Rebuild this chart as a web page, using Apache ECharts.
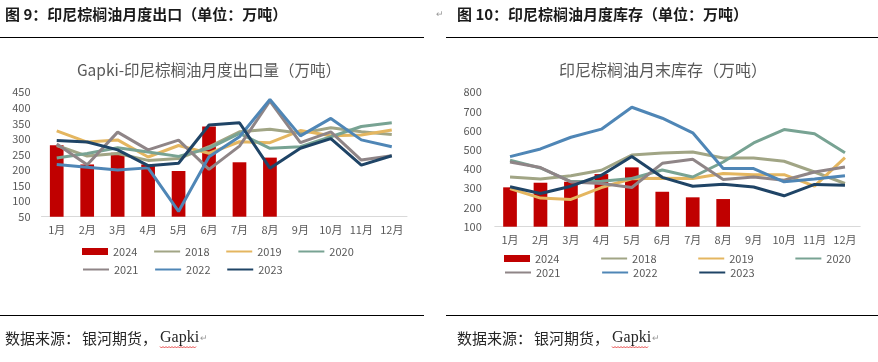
<!DOCTYPE html>
<html>
<head>
<meta charset="utf-8">
<script src="https://cdn.jsdelivr.net/npm/echarts@6/dist/echarts.min.js"></script>
<style>
html,body{margin:0;padding:0;background:#fff;}
#c{width:878px;height:362px;}
</style>
</head>
<body>
<div id="c"></div>
<script>
// ---- data ----
var months = ['1月','2月','3月','4月','5月','6月','7月','8月','9月','10月','11月','12月'];
var years = ['2024','2018','2019','2020','2021','2022','2023'];

// Left: Gapki monthly exports (10k t)
var exp2024 = [280, 218, 256, 218, 197, 340, 225, 240];
var exp2018 = [279, 245, 253, 231, 237, 275, 323, 331, 318, 336, 323, 314];
var exp2019 = [326, 290, 297, 242, 279, 254, 291, 288, 327, 310, 313, 329];
var exp2020 = [239, 253, 272, 258, 244, 270, 318, 270, 275, 307, 340, 352];
var exp2021 = [284, 217, 322, 265, 296, 202, 277, 422, 288, 323, 232, 246];
var exp2022 = [218, 209, 200, 207, 67, 243, 307, 427, 310, 366, 297, 275];
var exp2023 = [295, 290, 265, 214, 222, 345, 352, 206, 270, 301, 216, 246];

// Right: month-end stocks (10k t)
var inv2024 = [305, 329, 334, 374, 409, 282, 253, 244];
var inv2018 = [359, 349, 365, 394, 473, 484, 489, 458, 458, 441, 385, 325];
var inv2019 = [299, 249, 242, 304, 350, 352, 351, 377, 371, 371, 311, 460];
var inv2020 = [446, 406, 335, 337, 351, 395, 359, 437, 536, 606, 584, 485];
var inv2021 = [437, 408, 333, 325, 304, 430, 451, 346, 359, 342, 385, 411];
var inv2022 = [465, 505, 566, 608, 722, 665, 589, 403, 403, 334, 349, 365];
var inv2023 = [308, 273, 311, 368, 466, 357, 311, 321, 307, 261, 320, 316];

var leftTicks = [50, 450, 50];   // min, max, interval
var rightTicks = [100, 800, 100];

// ---- styles ----
var colors = {
  '2024': '#C00000',
  '2018': '#A1A585',
  '2019': '#E4B660',
  '2020': '#78A393',
  '2021': '#8F8587',
  '2022': '#4F86B6',
  '2023': '#1F4466'
};
var FONT = "'Noto Sans CJK SC', 'Noto Sans', sans-serif";
var labelColor = '#595959';

var chart = echarts.init(document.getElementById('c'), null, {renderer: 'canvas'});

function mkSeries(axisIdx, bars, lines) {
  var out = [];
  out.push({
    name: '2024', type: 'bar', xAxisIndex: axisIdx, yAxisIndex: axisIdx,
    data: bars, barWidth: '45%', itemStyle: {color: colors['2024']}, z: 1
  });
  var names = ['2018','2019','2020','2021','2022','2023'];
  names.forEach(function (n, i) {
    out.push({
      name: n, type: 'line', xAxisIndex: axisIdx, yAxisIndex: axisIdx,
      data: lines[i], symbol: 'none', smooth: false,
      lineStyle: {width: 3, color: colors[n]}, itemStyle: {color: colors[n]},
      z: 2 + i
    });
  });
  return out;
}

var series = mkSeries(0, exp2024, [exp2018, exp2019, exp2020, exp2021, exp2022, exp2023])
  .concat(mkSeries(1, inv2024, [inv2018, inv2019, inv2020, inv2021, inv2022, inv2023]));

function xAx(gi) {
  return {
    type: 'category', gridIndex: gi, data: months, boundaryGap: true,
    axisLine: {show: true, lineStyle: {color: '#D9D9D9', width: 1}},
    axisTick: {show: false},
    axisLabel: {color: labelColor, fontSize: 11, fontFamily: FONT, margin: 8, interval: 0}
  };
}
function yAx(gi, t, margin) {
  return {
    type: 'value', gridIndex: gi, min: t[0], max: t[1], interval: t[2],
    axisLine: {show: false}, axisTick: {show: false}, splitLine: {show: false},
    axisLabel: {color: labelColor, fontSize: 11, fontFamily: FONT, margin: margin}
  };
}

function legendRow(data, left, top, gap) {
  return {
    data: data.map(function (d) {
      return d === '2024'
        ? {name: d, icon: 'rect'}
        : {name: d, itemStyle: {color: 'rgba(0,0,0,0)', borderWidth: 0, opacity: 0}};
    }),
    left: left, top: top, orient: 'horizontal', itemGap: gap,
    itemWidth: 26, itemHeight: 7, padding: 0, selectedMode: false,
    textStyle: {color: labelColor, fontSize: 11, fontFamily: FONT}
  };
}

function wavy(x0, x1, y) {
  var pts = [];
  var k = 0;
  for (var x = x0; x <= x1; x += 1.5) {
    pts.push([x, y + (k % 2 === 0 ? 0 : 1.5)]);
    k++;
  }
  return {type: 'polyline', shape: {points: pts}, style: {stroke: '#E02020', lineWidth: 0.8, fill: null}};
}

var headerStyle = {fontSize: 15, fontWeight: 'bold', fontFamily: FONT, fill: '#1A1A1A'};
var footStyle = {fontSize: 15, fontFamily: FONT, fill: '#262626'};
var gapkiStyle = {fontSize: 16, fontFamily: "'Liberation Serif', 'DejaVu Serif', serif", fill: '#262626'};

var graphics = [
  {type: 'text', x: 5, y: 14, style: Object.assign({text: '图 9：印尼棕榈油月度出口（单位：万吨）', textVerticalAlign: 'middle'}, headerStyle)},
  {type: 'text', x: 457, y: 14, style: Object.assign({text: '图 10：印尼棕榈油月度库存（单位：万吨）', textVerticalAlign: 'middle'}, headerStyle)},
  {type: 'text', x: 436, y: 15, style: {text: '↵', fontSize: 9, fill: '#999', textVerticalAlign: 'middle'}},
  {type: 'line', shape: {x1: 0, y1: 37.5, x2: 424, y2: 37.5}, style: {stroke: '#000', lineWidth: 1}},
  {type: 'line', shape: {x1: 446, y1: 37.5, x2: 878, y2: 37.5}, style: {stroke: '#000', lineWidth: 1}},
  {type: 'line', shape: {x1: 0, y1: 315.5, x2: 424, y2: 315.5}, style: {stroke: '#000', lineWidth: 1}},
  {type: 'line', shape: {x1: 446, y1: 315.5, x2: 878, y2: 315.5}, style: {stroke: '#000', lineWidth: 1}},
  {type: 'text', x: 5, y: 338, style: Object.assign({text: '数据来源：', textVerticalAlign: 'middle'}, footStyle)},
  {type: 'text', x: 82, y: 338, style: Object.assign({text: '银河期货，', textVerticalAlign: 'middle'}, footStyle)},
  {type: 'text', x: 160, y: 338, style: Object.assign({text: 'Gapki', textVerticalAlign: 'middle'}, gapkiStyle)},
  {type: 'text', x: 457, y: 338, style: Object.assign({text: '数据来源：', textVerticalAlign: 'middle'}, footStyle)},
  {type: 'text', x: 534, y: 338, style: Object.assign({text: '银河期货，', textVerticalAlign: 'middle'}, footStyle)},
  {type: 'text', x: 612, y: 338, style: Object.assign({text: 'Gapki', textVerticalAlign: 'middle'}, gapkiStyle)},
  {type: 'text', x: 200, y: 339, style: {text: '↵', fontSize: 9, fill: '#999', textVerticalAlign: 'middle'}},
  {type: 'text', x: 652, y: 339, style: {text: '↵', fontSize: 9, fill: '#999', textVerticalAlign: 'middle'}},
  wavy(160, 197, 346.5),
  wavy(612, 649, 346.5),
  {type: 'text', x: 209, y: 70, style: {text: 'Gapki-印尼棕榈油月度出口量（万吨）', fontSize: 15.5, fontFamily: FONT, fill: '#595959', textAlign: 'center', textVerticalAlign: 'middle'}},
  {type: 'text', x: 663, y: 70, style: {text: '印尼棕榈油月末库存（万吨）', fontSize: 16, fontFamily: FONT, fill: '#595959', textAlign: 'center', textVerticalAlign: 'middle'}}
];

var option = {
  animation: false,
  backgroundColor: '#ffffff',
  grid: [
    {left: 41.5, top: 92.3, width: 365.5, height: 124.4},
    {left: 494.8, top: 92.3, width: 365.4, height: 134.4}
  ],
  xAxis: [xAx(0), xAx(1)],
  yAxis: [yAx(0, leftTicks, 11), yAx(1, rightTicks, 13)],
  legend: [
    legendRow(['2024','2018','2019','2020'], 82, 246, 15.7),
    legendRow(['2021','2022','2023'], 82, 264, 15.7),
    legendRow(['2024','2018','2019','2020'], 504, 253, 40.7),
    legendRow(['2021','2022','2023'], 504, 267, 40.7)
  ],
  series: series,
  graphic: graphics
};
chart.setOption(option);
</script>
</body>
</html>
